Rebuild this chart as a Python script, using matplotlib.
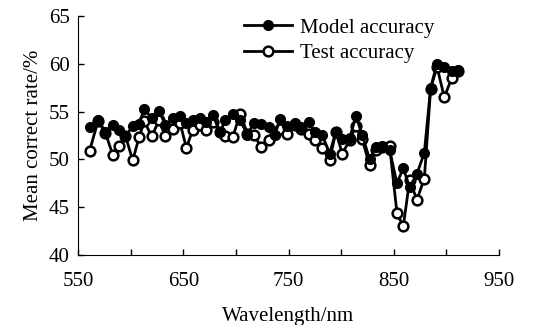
import numpy as np
import matplotlib
matplotlib.use("Agg")
import matplotlib.pyplot as plt

wavelength = [561, 569, 576, 583, 589, 595, 602, 608, 613, 620, 627, 633, 640, 647,
              653, 659, 666, 672, 678, 685, 690, 697, 704, 711, 717, 724, 731, 737,
              742, 749, 756, 762, 769, 775, 782, 789, 795, 801, 808, 814, 820, 827,
              833, 839, 846, 853, 859, 865, 872, 879, 885, 891, 898, 905, 911]

model_acc = [53.4, 54.1, 52.9, 53.6, 53.1, 52.4, 53.5, 53.7, 55.3, 54.3, 55.1, 53.6,
             54.3, 54.5, 53.8, 54.1, 54.3, 53.9, 54.6, 52.9, 54.1, 54.8, 54.1, 52.6,
             53.8, 53.7, 53.4, 52.6, 54.2, 53.5, 53.8, 53.4, 53.9, 52.9, 52.6, 50.6,
             52.9, 52.1, 52.2, 54.5, 52.6, 50.0, 51.3, 51.4, 51.0, 47.5, 49.1, 47.1,
             48.5, 50.7, 57.5, 60.0, 59.7, 59.2, 59.4]

test_acc = [50.9, 54.0, 52.8, 50.5, 51.4, 52.5, 49.9, 52.3, 54.0, 52.4, 54.1, 52.4,
            53.2, 53.8, 51.2, 53.1, 53.6, 53.1, 53.9, 52.9, 52.4, 52.3, 54.8, 52.7,
            52.6, 51.3, 52.0, 52.7, 53.2, 52.7, 53.6, 53.2, 52.7, 52.0, 51.2, 49.9,
            52.9, 50.6, 52.0, 53.5, 52.1, 49.4, 51.0, 51.3, 51.4, 44.4, 43.0, 47.8,
            45.8, 48.0, 57.4, 59.7, 56.5, 58.5, 59.2]

plt.rcParams["font.family"] = ["Liberation Serif", "DejaVu Serif"]

fig = plt.figure(figsize=(5.57, 3.25), dpi=100)
ax = fig.add_axes([0.140, 0.215, 0.756, 0.736])

ax.plot(wavelength, model_acc, color="black", lw=2, marker="o", ms=7,
        mfc="black", mec="black", label="Model accuracy", zorder=3)
ax.plot(wavelength, test_acc, color="black", lw=2, marker="o", ms=7,
        mfc="white", mec="black", mew=1.8, label="Test accuracy", zorder=2)

ax.set_xlim(550, 950)
ax.set_ylim(40, 65)
ax.set_xticks(np.arange(550, 951, 50))
ax.set_xticklabels([str(v) if v % 100 == 50 else "" for v in range(550, 951, 50)])
ax.set_yticks(np.arange(40, 66, 5))
ax.tick_params(direction="in", labelsize=15, length=4, width=1)
ax.tick_params(axis="x", pad=12)
ax.tick_params(axis="y", pad=6)
for s in ["top", "right"]:
    ax.spines[s].set_visible(False)
ax.set_xlabel("Wavelength/nm", fontsize=15, labelpad=12)
ax.set_ylabel("Mean correct rate/%", fontsize=15)
ax.legend(loc="upper left", bbox_to_anchor=(0.35, 1.07), frameon=False,
          fontsize=15, handlelength=2.3, labelspacing=0.3, handletextpad=0.4)

fig.savefig("out.png", dpi=100)
